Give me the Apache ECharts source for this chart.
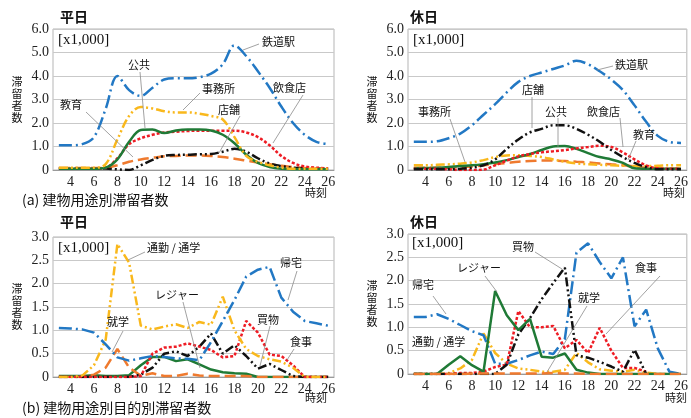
<!DOCTYPE html>
<html>
<head>
<meta charset="utf-8">
<script src="https://cdn.jsdelivr.net/npm/echarts@6/dist/echarts.min.js"></script>
<style>
  html, body { margin: 0; background: #fff; }
  #main { width: 691px; height: 418px; }
</style>
</head>
<body>
<div id="main"></div>
<script>
// hours on the x axis (3 .. 26)
var hours = [3,4,5,6,7,8,9,10,11,12,13,14,15,16,17,18,19,20,21,22,23,24,25,26];

// (a) 平日 - by building use [x1,000]
var wdStation = [1.05,1.05,1.1,1.4,2.6,4.0,3.4,3.15,3.5,3.85,3.9,3.9,3.95,4.1,4.5,5.3,4.85,4.2,3.5,2.7,2.0,1.5,1.2,1.1];
var wdOffice  = [0.1,0.1,0.1,0.1,0.25,1.3,2.3,2.68,2.62,2.5,2.45,2.45,2.4,2.3,2.15,1.4,0.6,0.35,0.2,0.1,0.05,0.05,0.05,0.05];
var wdPublic  = [0.05,0.05,0.05,0.05,0.1,0.45,1.2,1.7,1.72,1.57,1.68,1.72,1.72,1.68,1.5,1.14,0.65,0.3,0.13,0.05,0.03,0.03,0.03,0.03];
var wdFood    = [0.05,0.05,0.05,0.05,0.1,0.5,1.1,1.35,1.5,1.6,1.63,1.66,1.67,1.67,1.67,1.67,1.6,1.4,1.05,0.6,0.3,0.15,0.1,0.07];
var wdEdu     = [0.08,0.08,0.08,0.08,0.1,0.2,0.35,0.45,0.52,0.58,0.6,0.62,0.62,0.6,0.55,0.48,0.4,0.32,0.25,0.18,0.12,0.08,0.05,0.05];
var wdShop    = [0.07,0.07,0.07,0.07,0.06,0.03,0.0,0.2,0.43,0.6,0.64,0.65,0.67,0.68,0.78,0.9,0.78,0.5,0.28,0.17,0.1,0.07,0.05,0.05];

// (a) 休日
var hdStation = [1.2,1.2,1.22,1.35,1.55,1.9,2.35,2.8,3.3,3.75,4.0,4.15,4.3,4.45,4.65,4.5,4.2,3.85,3.4,2.75,2.05,1.45,1.2,1.15];
var hdShop    = [0.03,0.03,0.03,0.03,0.05,0.1,0.2,0.45,0.9,1.3,1.6,1.75,1.9,1.9,1.75,1.5,1.2,0.85,0.55,0.3,0.12,0.03,0.03,0.03];
var hdPublic  = [0.07,0.08,0.1,0.13,0.17,0.2,0.25,0.32,0.42,0.55,0.68,0.85,1.0,1.02,0.9,0.72,0.55,0.45,0.3,0.07,0.05,0.05,0.05,0.05];
var hdFood    = [0.05,0.05,0.05,0.03,0.0,0.0,0.02,0.2,0.4,0.58,0.68,0.75,0.8,0.85,0.92,0.98,1.03,0.98,0.75,0.45,0.2,0.07,0.05,0.05];
var hdEdu     = [0.1,0.1,0.1,0.1,0.12,0.15,0.2,0.25,0.3,0.35,0.38,0.4,0.4,0.38,0.35,0.32,0.28,0.24,0.2,0.15,0.1,0.07,0.05,0.05];
var hdOffice  = [0.2,0.2,0.22,0.24,0.27,0.32,0.42,0.55,0.62,0.63,0.6,0.55,0.45,0.35,0.28,0.25,0.22,0.2,0.18,0.17,0.17,0.18,0.2,0.2];

// (b) 平日 - by purpose
var wpHome     = [1.05,1.04,1.02,0.95,0.7,0.42,0.35,0.4,0.45,0.43,0.4,0.39,0.36,0.75,1.2,1.65,2.15,2.3,2.36,1.7,1.4,1.2,1.15,1.1];
var wpCommute  = [0,0,0.03,0.25,0.8,2.85,2.45,1.1,1.02,1.08,1.13,1.05,1.18,1.12,1.72,1.0,0.6,0.45,0.38,0.33,0.2,0,0,0];
var wpSchool   = [0,0,0,0.05,0.2,0.6,0.2,0.03,0.08,0.02,0.02,0.07,0.03,0.02,0.02,0.02,0.02,0,0,0,0,0,0,0];
var wpLeisure  = [0.02,0.02,0.02,0.04,0.02,0.02,0.04,0.25,0.43,0.43,0.34,0.38,0.27,0.16,0.1,0.08,0.07,0,0,0,0,0,0,0];
var wpShopping = [0,0,0,0,0,0,0,0.05,0.2,0.5,0.55,0.45,0.65,0.93,0.5,0.68,0.45,0.18,0.28,0.15,0.02,0,0,0];
var wpMeal     = [0,0,0,0,0,0,0,0.02,0.5,0.63,0.65,0.72,0.65,0.58,0.42,0.45,1.2,0.95,0.48,0.45,0.25,0,0,0];

// (b) 休日
var hpHome     = [1.22,1.22,1.28,1.18,1.05,0.92,0.83,0.22,0.22,0.3,0.4,0.48,0.43,0.75,2.6,2.8,2.4,2.05,2.5,1.02,1.38,0.55,0.05,0];
var hpCommute  = [0,0,0,0.02,0.12,0.3,0.87,0.45,0.22,0.12,0.09,0.05,0.05,0.09,0.45,0.25,0.1,0.07,0.05,0.09,0.03,0,0,0];
var hpLeisure  = [0,0,0,0.2,0.38,0.19,0.05,1.78,1.26,0.94,1.18,0.37,0.35,0.44,0.09,0.03,0,0,0,0,0,0,0,0];
var hpShopping = [0,0,0,0,0,0,0,0,0.2,0.85,1.2,1.6,1.95,2.28,0.4,0.35,0.26,0.16,0.05,0.52,0,null,null,null];
var hpMeal     = [0,0,0,0,0.02,0.02,0.05,0.15,0.2,1.35,1.0,1.0,1.03,0.55,0.73,0.45,0.99,0.5,0.13,0.13,0.05,null,null,null];
var hpSchool   = [0,0,0,0,0,0.01,0.01,0.01,0.01,0.01,0.01,0.01,0.02,0.01,0.01,0,0,0,0,0,0,0,0,0];

var BLUE = '#2278c4', GOLD = '#f9b81c', GREEN = '#1f7a36', RED = '#ee1c24', BLACK = '#111', ORANGE = '#ef7a2e';
var DASH_DOT = [13, 4, 2, 4], DASH_DD = [9, 3, 2, 3, 2, 3], DOT = [3, 2], LONG = [11, 5];
var CJK = "'Noto Sans CJK JP', sans-serif";
var SERIF = "'Liberation Serif', serif";

var myChart = echarts.init(document.getElementById('main'));

var grids = [
    {left: 53, top: 29, width: 281, height: 141},
    {left: 408, top: 29, width: 280, height: 141},
    {left: 53, top: 237, width: 281, height: 140},
    {left: 408, top: 234, width: 280, height: 140}
];

function xAx(i) {
    return {
        type: 'category', gridIndex: i, data: hours, boundaryGap: true,
        axisTick: {show: false},
        axisLine: {lineStyle: {color: '#9a9a9a'}},
        axisLabel: {
            interval: function (idx, v) { return (+v) % 2 === 0; },
            fontFamily: SERIF, fontSize: 14, color: '#222', margin: 5
        },
        splitLine: {show: false}
    };
}

function yAx(i, max, step) {
    return {
        type: 'value', gridIndex: i, min: 0, max: max, interval: step,
        axisLine: {show: false}, axisTick: {show: false},
        axisLabel: {
            fontFamily: SERIF, fontSize: 14, color: '#222', margin: 4,
            formatter: function (v) { return v === 0 ? '0' : v.toFixed(1); }
        },
        splitLine: {lineStyle: {color: '#c9c9c9'}}
    };
}

function ln(i, data, color, dash, smooth) {
    return {
        type: 'line', xAxisIndex: i, yAxisIndex: i, data: data,
        symbol: 'none', smooth: smooth ? 0.35 : false, connectNulls: false,
        lineStyle: {color: color, width: 2.5, type: dash, cap: 'butt'},
        animation: false
    };
}

var series = [
    ln(0, wdEdu, ORANGE, LONG, true),
    ln(0, wdShop, BLACK, DASH_DD, true),
    ln(0, wdFood, RED, DOT, true),
    ln(0, wdPublic, GREEN, 'solid', true),
    ln(0, wdOffice, GOLD, DASH_DD, true),
    ln(0, wdStation, BLUE, DASH_DOT, true),

    ln(1, hdEdu, ORANGE, LONG, true),
    ln(1, hdOffice, GOLD, DASH_DD, true),
    ln(1, hdPublic, GREEN, 'solid', true),
    ln(1, hdFood, RED, DOT, true),
    ln(1, hdShop, BLACK, DASH_DD, true),
    ln(1, hdStation, BLUE, DASH_DOT, true),

    ln(2, wpLeisure, GREEN, 'solid', false),
    ln(2, wpSchool, ORANGE, LONG, false),
    ln(2, wpShopping, BLACK, DASH_DD, false),
    ln(2, wpMeal, RED, DOT, false),
    ln(2, wpCommute, GOLD, DASH_DD, false),
    ln(2, wpHome, BLUE, DASH_DOT, false),

    ln(3, hpCommute, GOLD, DASH_DD, false),
    ln(3, hpHome, BLUE, DASH_DOT, false),
    ln(3, hpMeal, RED, DOT, false),
    ln(3, hpShopping, BLACK, DASH_DD, false),
    ln(3, hpLeisure, GREEN, 'solid', false),
    ln(3, hpSchool, ORANGE, LONG, false)
];

// label text, text x, text y, leader from (x1,y1) to (x2,y2)
var notes = [
    ['鉄道駅', 262, 42, 259, 44, 243, 50],
    ['公共', 128, 65, 140, 72, 145, 128],
    ['事務所', 202, 89, 200, 93, 183, 110],
    ['教育', 60, 105, 86, 112, 133, 157],
    ['店舗', 218, 110, 240, 116, 219, 153],
    ['飲食店', 273, 88, 303, 95, 273, 143],

    ['鉄道駅', 615, 65, 613, 66, 597, 70],
    ['店舗', 522, 90, 532, 97, 532, 128],
    ['公共', 545, 112, 558, 118, 558, 147],
    ['事務所', 418, 112, 450, 119, 465, 162],
    ['飲食店', 587, 112, 620, 118, 623, 147],
    ['教育', 633, 135, 636, 141, 628, 160],

    ['通勤 / 通学', 147, 248, 145, 252, 128, 260],
    ['帰宅', 280, 263, 297, 271, 288, 300],
    ['就学', 107, 322, 123, 331, 112, 352],
    ['レジャー', 155, 295, 183, 302, 200, 368],
    ['買物', 257, 320, 270, 326, 260, 366],
    ['食事', 290, 342, 294, 349, 287, 360],

    ['買物', 512, 247, 535, 252, 562, 269],
    ['レジャー', 457, 268, 485, 276, 497, 292],
    ['帰宅', 412, 285, 433, 296, 446, 314],
    ['就学', 578, 298, 587, 306, 547, 372],
    ['食事', 635, 268, 660, 276, 606, 334],
    ['通勤 / 通学', 412, 342]
];

var texts = [
    ['平日', 60, 17, 'bold 14px ' + CJK],
    ['休日', 410, 17, 'bold 14px ' + CJK],
    ['平日', 60, 222, 'bold 14px ' + CJK],
    ['休日', 410, 222, 'bold 14px ' + CJK],
    ['[x1,000]', 58, 40, '15px ' + SERIF],
    ['[x1,000]', 413, 40, '15px ' + SERIF],
    ['[x1,000]', 58, 248, '15px ' + SERIF],
    ['[x1,000]', 412, 243, '15px ' + SERIF],
    ['時刻', 305, 193, '11px ' + CJK],
    ['時刻', 663, 193, '11px ' + CJK],
    ['時刻', 305, 398, '11px ' + CJK],
    ['時刻', 665, 398, '11px ' + CJK],
    ['(a) 建物用途別滞留者数', 22, 200, '14px ' + CJK],
    ['(b) 建物用途別目的別滞留者数', 22, 408, '14px ' + CJK]
];

// vertical axis titles, one per panel (x, centre y)
var yTitles = [[17, 100], [372, 100], [17, 307], [372, 304]];

var graphic = [];
notes.forEach(function (n) {
    if (n.length > 3) {
        graphic.push({
            type: 'line', z: 50, silent: true,
            shape: {x1: n[3], y1: n[4], x2: n[5], y2: n[6]},
            style: {stroke: '#8a8a8a', lineWidth: 0.8}
        });
    }
    graphic.push({
        type: 'text', z: 60, x: n[1], y: n[2], silent: true,
        style: {text: n[0], font: '11px ' + CJK, fill: '#111', textAlign: 'left', textVerticalAlign: 'middle'}
    });
});
texts.forEach(function (t) {
    graphic.push({
        type: 'text', z: 60, x: t[1], y: t[2], silent: true,
        style: {text: t[0], font: t[3], fill: '#111', textAlign: 'left', textVerticalAlign: 'middle'}
    });
});
yTitles.forEach(function (p) {
    '滞留者数'.split('').forEach(function (ch, k) {
        graphic.push({
            type: 'text', z: 60, x: p[0], y: p[1] - 18 + k * 12, silent: true,
            style: {text: ch, font: '11px ' + CJK, fill: '#111', textAlign: 'center', textVerticalAlign: 'middle'}
        });
    });
});

var option = {
    backgroundColor: '#fff',
    animation: false,
    grid: grids.map(function (g) {
        return {left: g.left, top: g.top, width: g.width, height: g.height,
            show: true, borderColor: '#b5b5b5', borderWidth: 1, backgroundColor: 'transparent'};
    }),
    xAxis: [xAx(0), xAx(1), xAx(2), xAx(3)],
    yAxis: [yAx(0, 6, 1), yAx(1, 6, 1), yAx(2, 3, 0.5), yAx(3, 3, 0.5)],
    series: series,
    graphic: graphic
};

myChart.setOption(option);
</script>
</body>
</html>
